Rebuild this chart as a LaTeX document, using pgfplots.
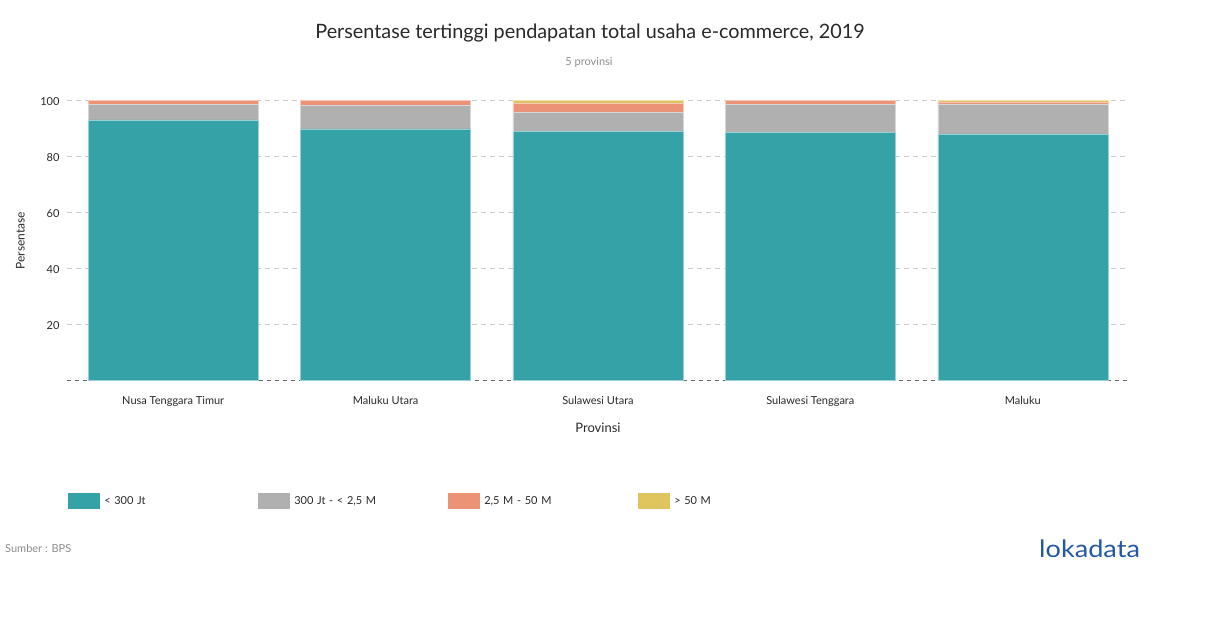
\documentclass[border=0pt]{standalone}
\usepackage{fontspec}
\setmainfont{Lato}
\usepackage{pgfplots}
\pgfplotsset{compat=1.18}
\definecolor{cteal}{RGB}{53,162,168}
\definecolor{cgray}{RGB}{176,176,176}
\definecolor{corange}{RGB}{236,146,118}
\definecolor{cyellow}{RGB}{224,197,94}
\definecolor{gridgray}{RGB}{200,200,200}
\definecolor{txt}{RGB}{40,40,40}
\definecolor{subgray}{RGB}{140,140,140}
\definecolor{logoblue}{RGB}{38,88,160}

\begin{document}
\begin{tikzpicture}[x=1pt,y=1pt]
\useasboundingbox (0,0) rectangle (1210,-628);
\begin{axis}[
  at={(67pt,-380.5pt)}, anchor=south west,
  scale only axis,
  width=1062pt, height=280pt,
  ybar stacked,
  bar width=170pt,
  xmin=-0.5, xmax=4.5,
  ymin=0, ymax=100,
  xtick=data,
  xticklabels={Nusa Tenggara Timur, Maluku Utara, Sulawesi Utara, Sulawesi Tenggara, Maluku},
  ytick={20,40,60,80,100},
  extra y ticks={0},
  extra y tick labels={},
  extra y tick style={grid style={draw=gray!80!black, dash pattern=on 4pt off 4pt, line width=0.6pt}},
  major tick length=0pt,
  axis line style={draw=none},
  ymajorgrids,
  grid style={draw=gridgray, dash pattern=on 5pt off 4pt, line width=0.6pt},
  /pgf/number format/assume math mode=true,
  yticklabel style={font=\fontsize{11}{13}\selectfont, text=txt, xshift=-4pt, yshift=-1pt},
  xticklabel style={font=\fontsize{11}{13}\selectfont, text=txt, yshift=-12pt},
  xlabel={Provinsi},
  xlabel style={font=\fontsize{13}{15}\selectfont, text=txt, at={(axis description cs:0.5,-0.168)}, anchor=center},
  ylabel={Persentase},
  ylabel style={font=\fontsize{12}{14}\selectfont, text=txt, at={(axis description cs:-0.044,0.5)}, anchor=center, rotate=0},
  every axis plot/.append style={line width=0.5pt},
  legend columns=4,
  legend style={draw=none, fill=none, inner sep=0pt,
    at={(axis description cs:0.001,-0.43)}, anchor=west,
    font=\fontsize{11}{13}\selectfont, text=txt,
    nodes={text width=150pt, align=left, inner xsep=4pt},
    /tikz/column sep=0pt},
  legend image code/.code={\fill[#1, draw=none] (0pt,-8pt) rectangle (32pt,8pt);},
]
\addplot[fill=cteal, draw=cteal!50!white] coordinates {(0,93.1) (1,89.9) (2,88.9) (3,88.5) (4,88.1)};
\addplot[fill=cgray, draw=cgray!50!white] coordinates {(0,5.5) (1,8.4) (2,7.0) (3,10.0) (4,10.4)};
\addplot[fill=corange, draw=corange!50!white] coordinates {(0,1.4) (1,1.7) (2,3.1) (3,1.5) (4,0.7)};
\addplot[fill=cyellow, draw=cyellow!50!white] coordinates {(0,0) (1,0) (2,1.0) (3,0) (4,0.8)};
\legend{< 300 Jt, 300 Jt - < 2{,}5 M, 2{,}5 M - 50 M, > 50 M}
\end{axis}
\node[font=\fontsize{19.8}{23}\selectfont, text=txt] at (590,-33) {Persentase tertinggi pendapatan total usaha e-commerce, 2019};
\node[font=\fontsize{11}{13}\selectfont, text=subgray] at (589,-62) {5 provinsi};
\node[font=\fontsize{11}{13}\selectfont, text=subgray, anchor=west, inner sep=0pt] at (5,-548) {Sumber : BPS};
\node[font=\fontsize{24}{27}\selectfont, text=logoblue, anchor=west, inner sep=0pt, xscale=1.13] at (1039,-549) {lokadata};
\end{tikzpicture}
\end{document}
